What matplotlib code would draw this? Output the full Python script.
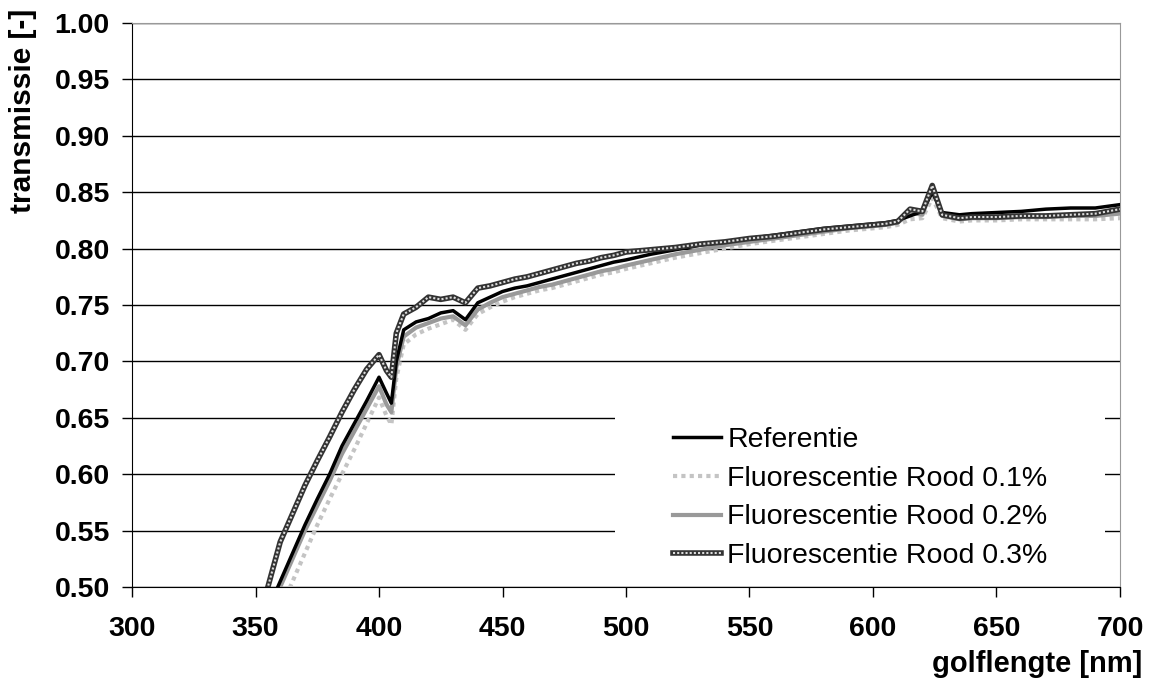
import matplotlib
matplotlib.use("Agg")
import matplotlib.pyplot as plt
from matplotlib.patches import Rectangle
from matplotlib.legend_handler import HandlerTuple

plt.rcParams['font.family'] = ['Liberation Sans', 'DejaVu Sans']

# wavelength [nm]
wl = [350, 355, 360, 365, 370, 375, 380, 385, 390, 395,
      400, 403, 405, 407, 410, 415, 420, 425, 430, 435,
      440, 445, 450, 455, 460, 465, 470, 475, 480, 485,
      490, 495, 500, 510, 520, 530, 540, 550, 560, 570,
      580, 590, 600, 605, 610, 615, 620, 624, 628, 635,
      640, 650, 660, 670, 680, 690, 700]

referentie = [0.460, 0.480, 0.505, 0.530, 0.555, 0.578, 0.600, 0.625, 0.645, 0.665,
              0.686, 0.672, 0.663, 0.700, 0.728, 0.735, 0.738, 0.743, 0.745, 0.737,
              0.752, 0.757, 0.762, 0.765, 0.767, 0.770, 0.773, 0.776, 0.779, 0.782,
              0.785, 0.788, 0.790, 0.795, 0.799, 0.803, 0.806, 0.809, 0.812, 0.815,
              0.818, 0.820, 0.822, 0.823, 0.825, 0.829, 0.833, 0.850, 0.832, 0.830,
              0.831, 0.832, 0.833, 0.835, 0.836, 0.836, 0.839]

rood_01 = [0.440, 0.460, 0.480, 0.505, 0.530, 0.555, 0.578, 0.600, 0.622, 0.645,
           0.668, 0.652, 0.644, 0.685, 0.715, 0.724, 0.729, 0.733, 0.737, 0.728,
           0.742, 0.748, 0.753, 0.757, 0.760, 0.763, 0.765, 0.768, 0.771, 0.774,
           0.777, 0.779, 0.782, 0.787, 0.792, 0.796, 0.800, 0.804, 0.807, 0.810,
           0.813, 0.816, 0.818, 0.819, 0.821, 0.826, 0.827, 0.845, 0.827, 0.824,
           0.825, 0.825, 0.826, 0.826, 0.826, 0.826, 0.827]

rood_02 = [0.455, 0.475, 0.500, 0.525, 0.550, 0.572, 0.594, 0.618, 0.638, 0.658,
           0.678, 0.662, 0.655, 0.695, 0.722, 0.730, 0.734, 0.738, 0.740, 0.732,
           0.746, 0.752, 0.757, 0.760, 0.763, 0.766, 0.768, 0.771, 0.774, 0.777,
           0.780, 0.782, 0.785, 0.790, 0.795, 0.799, 0.803, 0.806, 0.809, 0.812,
           0.815, 0.818, 0.820, 0.821, 0.823, 0.832, 0.830, 0.854, 0.829, 0.826,
           0.827, 0.827, 0.828, 0.828, 0.829, 0.829, 0.831]

rood_03 = [0.470, 0.500, 0.540, 0.565, 0.590, 0.612, 0.633, 0.655, 0.675, 0.693,
           0.706, 0.692, 0.686, 0.725, 0.742, 0.748, 0.757, 0.755, 0.757, 0.752,
           0.765, 0.767, 0.770, 0.773, 0.775, 0.778, 0.781, 0.784, 0.787, 0.789,
           0.792, 0.794, 0.797, 0.799, 0.801, 0.804, 0.806, 0.809, 0.811, 0.814,
           0.817, 0.819, 0.821, 0.822, 0.824, 0.835, 0.833, 0.856, 0.830, 0.827,
           0.828, 0.828, 0.829, 0.829, 0.830, 0.831, 0.835]

labels = ["Referentie", "Fluorescentie Rood 0.1%",
          "Fluorescentie Rood 0.2%", "Fluorescentie Rood 0.3%"]

fig = plt.figure(figsize=(11.5, 6.81), dpi=100)
ax = fig.add_axes([0.1148, 0.138, 0.8591, 0.8282])

ax.set_xlim(300, 700)
ax.set_ylim(0.50, 1.00)
ax.set_xticks(range(300, 701, 50))
ax.set_yticks([0.50 + 0.05 * i for i in range(11)])
ax.set_yticklabels(["%.2f" % (0.50 + 0.05 * i) for i in range(11)])
ax.yaxis.grid(True, color='black', lw=1.0)
ax.set_axisbelow(True)

for s in ['top', 'right']:
    ax.spines[s].set_color('#999999')
ax.tick_params(axis='both', direction='out', length=7, width=1, labelsize=20.5)
ax.tick_params(axis='x', pad=14)
ax.tick_params(axis='y', pad=9)
for t in ax.get_xticklabels() + ax.get_yticklabels():
    t.set_fontweight('bold')

l1, = ax.plot(wl, rood_01, color='#c4c4c4', lw=3, ls=(0, (1, 1)), zorder=3)
l2, = ax.plot(wl, rood_02, color='#999999', lw=3, zorder=3)
l0, = ax.plot(wl, referentie, color='black', lw=2.5, zorder=4)
l3a, = ax.plot(wl, rood_03, color='#333333', lw=4, zorder=5)
l3b, = ax.plot(wl, rood_03, color='#dddddd', lw=1.5, ls=(0, (1, 1)), zorder=6)

# white box behind legend (hides the gridlines there)
ax.add_patch(Rectangle((0.489, 0.012), 0.496, 0.311, transform=ax.transAxes,
                       facecolor='white', edgecolor='none', zorder=2))

ax.legend([l0, l1, l2, (l3a, l3b)], labels,
          handler_map={tuple: HandlerTuple(ndivide=1, pad=0)},
          loc='upper left', bbox_to_anchor=(0.5476, 0.284), frameon=False,
          fontsize=20.5, handlelength=1.7, handletextpad=0.2,
          labelspacing=0.45, borderaxespad=0, borderpad=0)

fig.text(1142 / 1150, 1 - 672 / 681, "golflengte [nm]", ha='right', va='baseline',
         fontsize=21, fontweight='bold')
fig.text(23 / 1150, 1 - 9 / 681, "transmissie [-]", rotation=90, ha='center', va='top',
         fontsize=21.5, fontweight='bold')

fig.savefig("out.png", dpi=100)
